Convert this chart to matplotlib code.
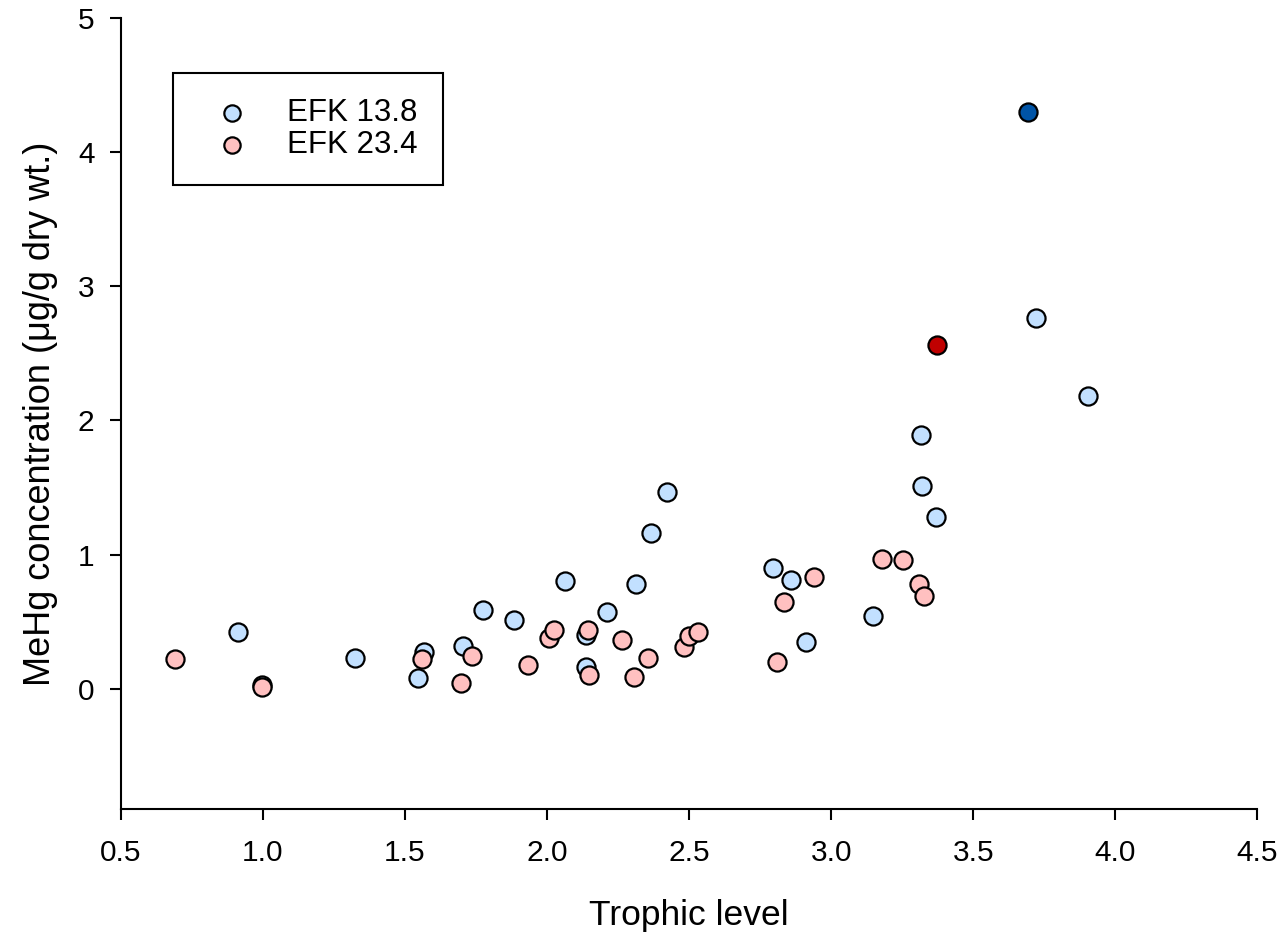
import matplotlib
matplotlib.use("Agg")
import matplotlib.pyplot as plt

plt.rcParams['font.family'] = ['Liberation Sans', 'DejaVu Sans']

# EFK 13.8 (light blue)
efk138_x = [0.912, 0.996, 1.324, 1.546, 1.567, 1.704, 1.775, 1.884, 2.063, 2.137,
            2.137, 2.211, 2.313, 2.366, 2.423, 2.796, 2.859, 2.912, 3.148, 3.317,
            3.320, 3.370, 3.722, 3.905]
efk138_y = [0.425, 0.03, 0.23, 0.08, 0.27, 0.32, 0.59, 0.51, 0.80, 0.16,
            0.40, 0.57, 0.78, 1.16, 1.47, 0.90, 0.81, 0.35, 0.54, 1.89,
            1.51, 1.28, 2.76, 2.18]

# EFK 23.4 (light red)
efk234_x = [0.690, 0.996, 1.560, 1.697, 1.736, 1.933, 2.007, 2.025, 2.144, 2.148,
            2.264, 2.306, 2.356, 2.482, 2.500, 2.532, 2.810, 2.835, 2.940, 3.180,
            3.254, 3.310, 3.327]
efk234_y = [0.22, 0.015, 0.22, 0.045, 0.245, 0.18, 0.38, 0.44, 0.44, 0.10,
            0.36, 0.09, 0.23, 0.31, 0.39, 0.42, 0.20, 0.65, 0.83, 0.97,
            0.96, 0.78, 0.69]

# highlighted points
top138 = (3.694, 4.30)
top234 = (3.373, 2.56)

fig = plt.figure(figsize=(12.84, 9.5), dpi=100)
ax = fig.add_axes([0.0942, 0.148, 0.885, 0.833])

ax.scatter(efk138_x, efk138_y, s=170, c='#C2E0FF', edgecolors='black',
           linewidths=1.6, zorder=3, label='EFK 13.8')
ax.scatter(efk234_x, efk234_y, s=170, c='#FFC0C0', edgecolors='black',
           linewidths=1.6, zorder=3, label='EFK 23.4')
ax.scatter([top138[0]], [top138[1]], s=170, c='#0054A6', edgecolors='black',
           linewidths=1.6, zorder=4)
ax.scatter([top234[0]], [top234[1]], s=170, c='#C00000', edgecolors='black',
           linewidths=1.6, zorder=4)

ax.set_xlim(0.5, 4.5)
ax.set_ylim(-0.9, 5)
ax.set_xticks([0.5, 1.0, 1.5, 2.0, 2.5, 3.0, 3.5, 4.0, 4.5])
ax.set_xticklabels(['0.5', '1.0', '1.5', '2.0', '2.5', '3.0', '3.5', '4.0', '4.5'])
ax.set_yticks([0, 1, 2, 3, 4, 5])

ax.spines['top'].set_visible(False)
ax.spines['right'].set_visible(False)
ax.spines['left'].set_linewidth(1.5)
ax.spines['bottom'].set_linewidth(1.5)
ax.tick_params(direction='out', length=8, width=1.5, labelsize=21.5)
ax.tick_params(axis='x', pad=13)
ax.tick_params(axis='y', pad=11)

ax.set_xlabel('Trophic level', fontsize=25.5, labelpad=23)
ax.set_ylabel('MeHg concentration (μg/g dry wt.)', fontsize=26, labelpad=14)

leg = ax.legend(loc='upper left', bbox_to_anchor=(0.0458, 0.930), fontsize=22.5,
                frameon=True, fancybox=False, edgecolor='black', framealpha=1,
                markerscale=0.9, handlelength=2.2, handletextpad=0.65,
                borderpad=0.8, labelspacing=0.05, borderaxespad=0)
leg.get_frame().set_linewidth(1.5)

fig.savefig('out.png', dpi=100)
